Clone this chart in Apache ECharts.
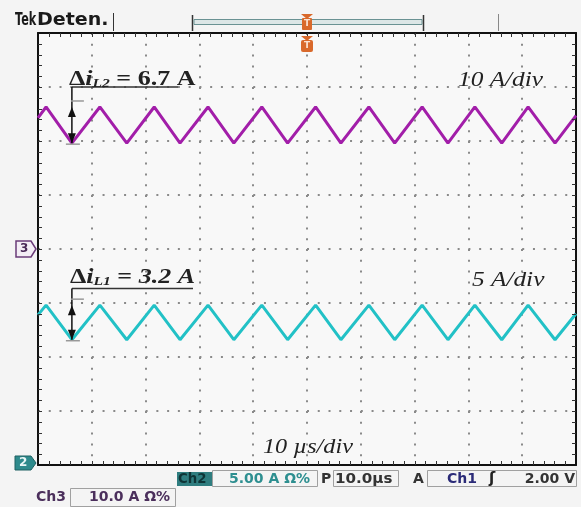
<!DOCTYPE html>
<html>
<head>
<meta charset="utf-8">
<script src="https://cdn.jsdelivr.net/npm/echarts@6/dist/echarts.min.js"></script>
<style>
  html, body { margin: 0; padding: 0; background: #f4f4f4; }
  #scope { width: 581px; height: 507px; }
</style>
</head>
<body>
<div id="scope"></div>
<script>
// Vertex times of the triangular ripple (µs, 10 µs/div)
const timeUs = [0, 1.5, 6.3, 11.5, 16.5, 21.6, 26.4, 31.6, 36.4, 41.6, 46.4,
                51.6, 56.3, 61.5, 66.3, 71.4, 76.2, 81.2, 86.2, 91.1, 96.1, 100];
// Ch3: inductor current iL2 in A (10 A/div, ground at centre)
const iL2 = [24.3, 26.3, 19.6, 26.3, 19.6, 26.3, 19.6, 26.3, 19.6, 26.3, 19.6,
             26.3, 19.6, 26.3, 19.6, 26.3, 19.6, 26.3, 19.6, 26.3, 19.6, 24.7];
// Ch2: inductor current iL1 in A (5 A/div, ground at bottom)
const iL1 = [13.9, 14.8, 11.6, 14.8, 11.6, 14.8, 11.6, 14.8, 11.6, 14.8, 11.6,
             14.8, 11.6, 14.8, 11.6, 14.8, 11.6, 14.8, 11.6, 14.8, 11.6, 14.0];
// Ripple figures written on the screen
const deltaL2 = ['6.7', 'A'];
const deltaL1 = ['3.2', 'A'];
const scaleLabels = ['10 A/div', '5 A/div', '10 µs/div'];

const MAGENTA = '#a21ea9';
const CYAN = '#22c1c6';
const SERIF = '"Liberation Serif", "DejaVu Serif", serif';
const SANS = '"DejaVu Sans", "Liberation Sans", sans-serif';

const chart = echarts.init(document.getElementById('scope'), null, { renderer: 'canvas' });

const frameLine = () => ({ show: true, onZero: false, lineStyle: { color: '#111', width: 2 } });

const zip = (xs, ys) => xs.map((x, i) => [x, ys[i]]);

chart.setOption({
  backgroundColor: '#f4f4f4',
  animation: false,
  grid: { left: 38, right: 5, top: 33, bottom: 42, show: true,
          backgroundColor: '#f8f8f8', borderWidth: 0 },
  xAxis: [
    { type: 'value', min: 0, max: 100, interval: 10, position: 'bottom',
      axisLine: frameLine(), axisTick: { show: false }, axisLabel: { show: false },
      splitLine: { show: true, lineStyle: { color: '#8a8a8a', width: 2, type: [2, 8.8] } } },
    { type: 'value', min: 0, max: 100, interval: 10, position: 'top',
      axisLine: frameLine(), axisTick: { show: false }, axisLabel: { show: false },
      splitLine: { show: false } }
  ],
  yAxis: [
    { type: 'value', min: 0, max: 40, interval: 5, position: 'left',
      axisLine: frameLine(), axisTick: { show: false }, axisLabel: { show: false },
      splitLine: { show: true, lineStyle: { color: '#8a8a8a', width: 2, type: [2, 8.76] } } },
    { type: 'value', min: -40, max: 40, interval: 10, position: 'right',
      axisLine: frameLine(), axisTick: { show: false }, axisLabel: { show: false },
      splitLine: { show: false } }
  ],
  series: [
    { name: 'iL2', type: 'line', xAxisIndex: 0, yAxisIndex: 1, data: zip(timeUs, iL2),
      symbol: 'none', lineStyle: { color: MAGENTA, width: 3 }, z: 5 },
    { name: 'iL1', type: 'line', xAxisIndex: 0, yAxisIndex: 0, data: zip(timeUs, iL1),
      symbol: 'none', lineStyle: { color: CYAN, width: 3 }, z: 5 }
  ]
});

// Pixel helpers on the channel scales
const px3 = (t, a) => chart.convertToPixel({ xAxisIndex: 0, yAxisIndex: 1 }, [t, a]);
const px2 = (t, a) => chart.convertToPixel({ xAxisIndex: 0, yAxisIndex: 0 }, [t, a]);

function txt(x, y, text, font, fill, extra) {
  return Object.assign({ type: 'text', x: x, y: y, z: 30,
    style: { text: text, x: 0, y: 0, font: font, fill: fill, verticalAlign: 'middle', align: 'left' } }, extra || {});
}
function line(x1, y1, x2, y2, color, w, z) {
  return { type: 'line', z: z || 20, shape: { x1: x1, y1: y1, x2: x2, y2: y2 },
           style: { stroke: color, lineWidth: w || 1 } };
}
function head(x, tipY, dir) {
  // dir = -1 points up, +1 points down
  return { type: 'polygon', z: 21,
    shape: { points: [[x, tipY], [x - 4, tipY - dir * 10], [x + 4, tipY - dir * 10]] },
    style: { fill: '#111' } };
}

// Graticule ruler: fine ticks every 1/5 division along the four frame edges
function rulerTicks() {
  const out = [];
  const left = px2(0, 0)[0], right = px2(100, 0)[0];
  const bottom = px2(0, 0)[1], top = px2(0, 40)[1];
  for (let k = 1; k < 50; k++) {
    const x = Math.round(px2(k * 2, 0)[0]) + 0.5;
    out.push(line(x, top, x, top + 4, '#333', 1, 15));
    out.push(line(x, bottom, x, bottom - 4, '#333', 1, 15));
  }
  for (let k = 1; k < 40; k++) {
    const y = Math.round(px2(0, k)[1]) + 0.5;
    out.push(line(left, y, left + 4, y, '#333', 1, 15));
    out.push(line(right, y, right - 4, y, '#333', 1, 15));
  }
  return out;
}

// Ripple measurement: arrow between a peak and the following trough
function rippleMarker(toPx, ti, peakVal, troughVal, topY, lineEnd) {
  const tr = toPx(timeUs[ti], troughVal);
  const pk = toPx(timeUs[ti], peakVal);
  const x = tr[0];
  return [
    line(x, topY, lineEnd, topY, '#333', 1.5),
    line(x, topY, x, tr[1], '#111', 1.5),
    line(x - 1, pk[1] - 6, x + 12, pk[1] - 6, '#999', 1.5),
    line(x - 6, tr[1] + 1, x + 8, tr[1] + 1, '#999', 1.5),
    head(x, pk[1], -1),
    head(x, tr[1], 1)
  ];
}

function deltaLabel(x, y, sub, value, italicValue) {
  return { type: 'text', x: x, y: y, z: 30, scaleX: 1.3,
    style: {
      text: '{d|Δ}{i|i}{s|' + sub + '}{e| = }{v|' + value[0] + ' ' + value[1] + '}',
      x: 0, y: 0, verticalAlign: 'bottom', align: 'left',
      rich: {
        d: { font: 'bold 20px ' + SERIF, fill: '#222', lineHeight: 22, verticalAlign: 'bottom' },
        i: { font: 'italic bold 20px ' + SERIF, fill: '#222', lineHeight: 22, verticalAlign: 'bottom' },
        s: { font: 'italic bold 12px ' + SERIF, fill: '#222', lineHeight: 12, verticalAlign: 'bottom' },
        e: { font: 'bold 20px ' + SERIF, fill: '#222', lineHeight: 22, verticalAlign: 'bottom' },
        v: { font: (italicValue ? 'italic ' : '') + 'bold 20px ' + SERIF, fill: '#222', lineHeight: 22, verticalAlign: 'bottom' }
      }
    } };
}

const g3 = px3(0, 0);   // Ch3 ground level
const g2 = px2(0, 0);   // Ch2 ground level
const top3 = px3(0, 30)[1];
const STATUS = 'bold 14px ' + SANS;

const graphics = [].concat(
  rulerTicks(),
  // header
  txt(15, 21, 'Tek', 'bold 17px ' + SANS, '#1a1a1a', { scaleX: 0.66 }),
  txt(37, 21, 'Deten.', 'bold 17px ' + SANS, '#1a1a1a', { scaleX: 1.12 }),
  line(113.5, 13, 113.5, 31, '#333', 1),
  line(192.5, 15, 192.5, 31, '#333', 1.5),
  { type: 'rect', z: 20, shape: { x: 194, y: 19.5, width: 228, height: 5 },
    style: { fill: '#dce6e6', stroke: '#6a9293', lineWidth: 1 } },
  line(423.5, 15, 423.5, 31, '#333', 1.5),
  line(498.5, 14, 498.5, 31, '#888', 1),
  { type: 'polygon', z: 22, shape: { points: [[301, 14], [313, 14], [307, 19]] }, style: { fill: '#d9692b' } },
  { type: 'rect', z: 22, shape: { x: 302, y: 18, width: 10, height: 12, r: 1 }, style: { fill: '#d9692b' } },
  txt(304, 24, 'T', 'bold 9px ' + SANS, '#fbe3d2'),
  { type: 'polygon', z: 22, shape: { points: [[301, 36], [313, 36], [307, 41]] }, style: { fill: '#d9692b' } },
  { type: 'rect', z: 22, shape: { x: 301, y: 40, width: 12, height: 12, r: 2 }, style: { fill: '#d9692b' } },
  txt(304, 46, 'T', 'bold 9px ' + SANS, '#fbe3d2'),

  // channel ground markers
  { type: 'polygon', z: 22, shape: { points: [[16, g3[1] - 8], [31, g3[1] - 8], [36, g3[1]], [31, g3[1] + 8], [16, g3[1] + 8]] },
    style: { fill: '#f3edf5', stroke: '#6a3b78', lineWidth: 1.5 } },
  txt(20, g3[1], '3', 'bold 12px ' + SANS, '#4a2a58'),
  { type: 'polygon', z: 22, shape: { points: [[15, g2[1] - 9], [31, g2[1] - 9], [36, g2[1] - 2], [31, g2[1] + 5], [15, g2[1] + 5]] },
    style: { fill: '#2e8a8c', stroke: '#1f6163', lineWidth: 1 } },
  txt(19, g2[1] - 2, '2', 'bold 12px ' + SANS, '#e9f6f6'),

  // ripple annotations
  rippleMarker(px3, 2, 26.3, 19.6, top3, 178),
  deltaLabel(69, 90, 'L2', deltaL2, false),
  rippleMarker(px2, 2, 14.8, 11.6, 288.5, 193),
  deltaLabel(70, 288, 'L1', deltaL1, true),

  // scale annotations
  txt(458, 80, scaleLabels[0], 'italic 22px ' + SERIF, '#222', { scaleX: 1.15 }),
  txt(472, 280, scaleLabels[1], 'italic 22px ' + SERIF, '#222', { scaleX: 1.15 }),
  txt(263, 447, scaleLabels[2], 'italic 22px ' + SERIF, '#222', { scaleX: 1.1 }),

  // status line
  { type: 'rect', z: 20, shape: { x: 177, y: 472, width: 35, height: 14 }, style: { fill: '#2f7d7f' } },
  txt(178, 479, 'Ch2', STATUS, '#0e3436', { scaleX: 0.95 }),
  { type: 'rect', z: 19, shape: { x: 212.5, y: 470.5, width: 105, height: 16 }, style: { fill: 'none', stroke: '#a0a0a0', lineWidth: 1 } },
  txt(229, 479, '5.00 A Ω%', STATUS, '#2e8f90'),
  txt(321, 479, 'P', STATUS, '#333'),
  { type: 'rect', z: 19, shape: { x: 333.5, y: 470.5, width: 65, height: 16 }, style: { fill: 'none', stroke: '#a0a0a0', lineWidth: 1 } },
  txt(335, 479, '10.0µs', STATUS, '#333', { scaleX: 1.08 }),
  txt(413, 479, 'A', STATUS, '#333'),
  { type: 'rect', z: 19, shape: { x: 427.5, y: 470.5, width: 149, height: 16 }, style: { fill: 'none', stroke: '#a0a0a0', lineWidth: 1 } },
  txt(447, 479, 'Ch1', STATUS, '#2b2b78'),
  txt(489, 479, 'ʃ', 'bold 15px ' + SANS, '#222'),
  { type: 'text', x: 575, y: 479, z: 30, style: { text: '2.00 V', x: 0, y: 0, font: STATUS, fill: '#333', align: 'right', verticalAlign: 'middle' } },
  txt(36, 497, 'Ch3', STATUS, '#4b2f5c'),
  { type: 'rect', z: 19, shape: { x: 70.5, y: 488.5, width: 105, height: 18 }, style: { fill: 'none', stroke: '#a0a0a0', lineWidth: 1 } },
  txt(89, 497, '10.0 A Ω%', STATUS, '#4b2f5c')
);

chart.setOption({ graphic: { elements: graphics } });
</script>
</body>
</html>
